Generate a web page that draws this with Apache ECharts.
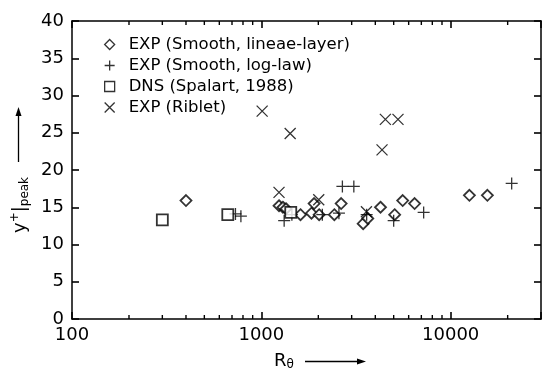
<!DOCTYPE html>
<html>
<head>
<meta charset="utf-8">
<script src="https://cdn.jsdelivr.net/npm/echarts@6/dist/echarts.min.js"></script>
<style>
  html, body { margin: 0; padding: 0; background: #fff; }
  #chart { width: 544px; height: 369px; }
</style>
</head>
<body>
<div id="chart"></div>
<script>
// R_theta, y+|peak
const smoothLinear = [[400, 15.9], [1240, 15.2], [1300, 15.0], [1350, 14.8], [1610, 14.0], [1840, 14.2],
  [1900, 15.5], [2020, 14.0], [2430, 14.0], [2640, 15.5], [3450, 12.8], [3650, 13.5], [4260, 15.0],
  [5060, 14.0], [5580, 15.9], [6450, 15.5], [12560, 16.6], [15630, 16.6]];
const smoothLog = [[730, 14.1], [780, 13.8], [1320, 13.2], [1450, 14.0], [2100, 14.0], [2570, 14.2],
  [2680, 17.8], [3080, 17.8], [3600, 14.0], [5000, 13.2], [7200, 14.3], [21000, 18.2]];
const dnsSpalart = [[300, 13.3], [665, 14.0], [1430, 14.3]];
const riblet = [[1010, 27.9], [1420, 24.9], [1240, 17.0], [2010, 16.0], [3590, 14.4], [4340, 22.7],
  [4520, 26.8], [5270, 26.8]];

const seriesNames = ['EXP (Smooth, lineae-layer)', 'EXP (Smooth, log-law)', 'DNS (Spalart, 1988)', 'EXP (Riblet)'];
const xTickLabels = ['100', '1000', '10000'];
const xMinorTicks = [200, 300, 400, 500, 600, 700, 800, 900, 2000, 3000, 4000, 5000, 6000, 7000, 8000, 9000, 20000];

const FONT = 'DejaVu Sans';
const PLUS = 'path://M0,5L10,5M5,0L5,10';
const CROSS = 'path://M0,0L10,10M10,0L0,10';

function makeXAxis(pos) {
  return {
    type: 'log', logBase: 10, min: 100, max: 30000, position: pos,
    axisLine: { show: true, onZero: false, lineStyle: { color: '#000', width: 1.5 } },
    axisTick: { show: true, inside: true, length: 7, lineStyle: { color: '#000', width: 1.6 } },
    splitLine: { show: false },
    axisLabel: pos === 'bottom' ? {
      color: '#000', fontSize: 18, fontFamily: FONT, margin: 7,
      formatter: v => { const s = String(Math.round(v)); return xTickLabels.includes(s) ? s : ''; }
    } : { show: false }
  };
}

function makeYAxis(pos) {
  return {
    type: 'value', min: 0, max: 40, interval: 5, position: pos,
    axisLine: { show: true, onZero: false, lineStyle: { color: '#000', width: 1.5 } },
    axisTick: { show: true, inside: true, length: 7, lineStyle: { color: '#000', width: 1.6 } },
    splitLine: { show: false },
    axisLabel: pos === 'left' ? { color: '#000', fontSize: 18, fontFamily: FONT, margin: 8 } : { show: false }
  };
}

// minor ticks of the log axis, drawn at y = atY going inward
function minorTickSeries(atY, dir) {
  return {
    type: 'custom', silent: true, clip: false, z: 5,
    data: xMinorTicks.map(v => [v, atY]),
    renderItem: (params, api) => {
      const p = api.coord([api.value(0), api.value(1)]);
      return {
        type: 'line',
        shape: { x1: p[0], y1: p[1], x2: p[0], y2: p[1] + dir * 4 },
        style: { stroke: '#000', lineWidth: 1.4 }
      };
    }
  };
}

const chart = echarts.init(document.getElementById('chart'));

chart.setOption({
  animation: false,
  backgroundColor: '#fff',
  grid: { left: 72, right: 2, top: 21, bottom: 50 },
  legend: {
    data: [
      { name: seriesNames[0], itemStyle: { borderWidth: 1.3 } },
      { name: seriesNames[1], itemStyle: { borderWidth: 1.3 } },
      { name: seriesNames[2], itemStyle: { borderWidth: 1.3 } },
      { name: seriesNames[3], itemStyle: { borderWidth: 1.3 } }
    ],
    orient: 'vertical',
    left: 99,
    top: 31,
    itemWidth: 10,
    itemHeight: 10,
    itemGap: 4,
    selectedMode: false,
    textStyle: { fontFamily: FONT, fontSize: 16.5, color: '#000', lineHeight: 16, padding: [0, 0, 0, 9] }
  },
  xAxis: [makeXAxis('bottom'), makeXAxis('top')],
  yAxis: [makeYAxis('left'), makeYAxis('right')],
  series: [
    {
      name: seriesNames[0], type: 'scatter', data: smoothLinear,
      symbol: 'diamond', symbolSize: 11,
      itemStyle: { color: '#fff', borderColor: '#000', borderWidth: 1.8 }
    },
    {
      name: seriesNames[1], type: 'scatter', data: smoothLog,
      symbol: PLUS, symbolSize: 12,
      itemStyle: { color: 'transparent', borderColor: '#000', borderWidth: 1.3 }
    },
    {
      name: seriesNames[2], type: 'scatter', data: dnsSpalart,
      symbol: 'rect', symbolSize: 11,
      itemStyle: { color: '#fff', borderColor: '#000', borderWidth: 1.8 }
    },
    {
      name: seriesNames[3], type: 'scatter', data: riblet,
      symbol: CROSS, symbolSize: 11,
      itemStyle: { color: 'transparent', borderColor: '#000', borderWidth: 1.3 }
    },
    minorTickSeries(0, -1),
    minorTickSeries(40, 1)
  ],
  graphic: [
    {
      type: 'text', x: 274, y: 361,
      style: {
        text: '{r|R}{s|θ}', verticalAlign: 'middle', align: 'left',
        rich: {
          r: { fontFamily: FONT, fontSize: 18, fill: '#000', lineHeight: 20 },
          s: { fontFamily: FONT, fontSize: 12, fill: '#000', lineHeight: 12, verticalAlign: 'bottom' }
        }
      }
    },
    { type: 'line', shape: { x1: 305, y1: 361.5, x2: 360, y2: 361.5 }, style: { stroke: '#000', lineWidth: 1.3 } },
    { type: 'polygon', shape: { points: [[366, 361.5], [357, 358.5], [357, 364.5]] }, style: { fill: '#000' } },
    {
      type: 'text', x: 20, y: 233, rotation: Math.PI / 2,
      style: {
        text: '{y|y}{sup|+}{y||}{sub|peak}', verticalAlign: 'middle', align: 'left',
        rich: {
          y: { fontFamily: FONT, fontSize: 18, fill: '#000', lineHeight: 22 },
          sup: { fontFamily: FONT, fontSize: 12, fill: '#000', lineHeight: 12, verticalAlign: 'top' },
          sub: { fontFamily: FONT, fontSize: 12, fill: '#000', lineHeight: 12, verticalAlign: 'bottom' }
        }
      }
    },
    { type: 'line', shape: { x1: 18.5, y1: 162, x2: 18.5, y2: 114 }, style: { stroke: '#000', lineWidth: 1.3 } },
    { type: 'polygon', shape: { points: [[18.5, 107], [15.5, 116], [21.5, 116]] }, style: { fill: '#000' } }
  ]
});
</script>
</body>
</html>
